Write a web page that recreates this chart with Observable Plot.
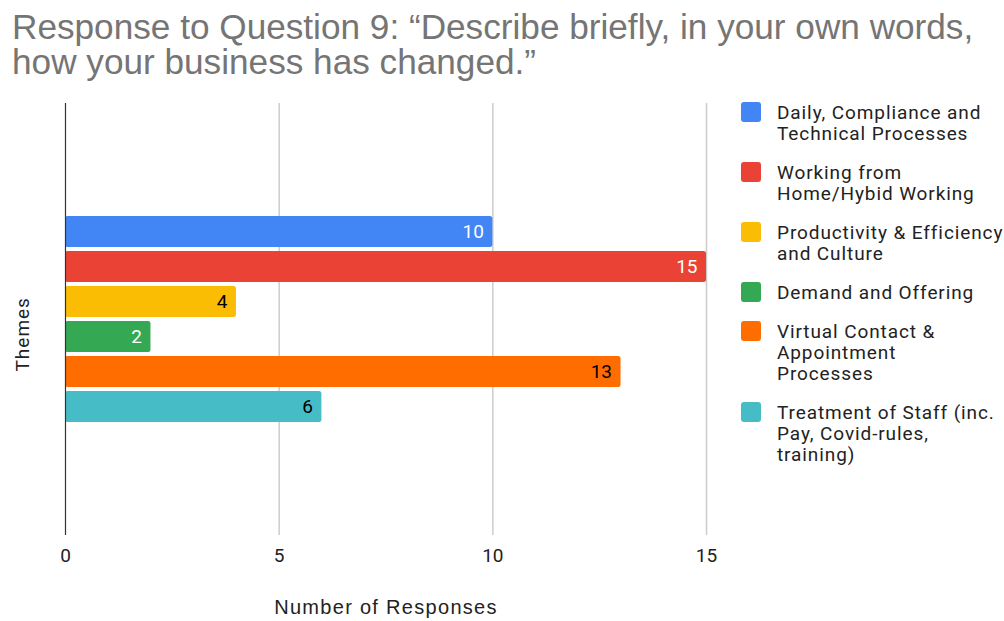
<!DOCTYPE html>
<html><head><meta charset="utf-8">
<script src="https://cdn.jsdelivr.net/npm/d3@7"></script>
<script src="https://cdn.jsdelivr.net/npm/@observablehq/plot@0.6"></script>
<style>
body{margin:0;background:#fff;font-family:Roboto,sans-serif}
#wrap{position:relative;width:1004px;height:621px;overflow:hidden;background:#fff}
#title{position:absolute;left:12px;top:9px;font-family:"Liberation Sans",Arial,sans-serif;font-size:35px;line-height:35px;color:#757575;white-space:nowrap;transform:scaleX(1.005);transform-origin:left top}
#chart{position:absolute;left:0;top:88px}
#legend{position:absolute;left:741px;top:101.5px;font-family:Roboto,sans-serif;font-size:19px;color:#222}
.item{display:flex;align-items:flex-start;margin-bottom:18px}
.sw{width:20px;height:20px;border-radius:3px;margin-right:16px;margin-top:0.5px;flex:none}
.lab{line-height:21px;letter-spacing:0.9px;white-space:nowrap}
.ylab{letter-spacing:1px}
.xlab{letter-spacing:1.3px;font-family:"Liberation Sans",Arial,sans-serif}
</style></head>
<body>
<div id="wrap">
  <div id="title"></div>
  <div id="chart"></div>
  <div id="legend"></div>
</div>
<script>
const titleLines = ["Response to Question 9: \u201cDescribe briefly, in your own words,", "how your business has changed.\u201d"];
const themes = [
  "Daily, Compliance and Technical Processes",
  "Working from Home/Hybid Working",
  "Productivity & Efficiency and Culture",
  "Demand and Offering",
  "Virtual Contact & Appointment Processes",
  "Treatment of Staff (inc. Pay, Covid-rules, training)"
];
const legendLines = [
  ["Daily, Compliance and", "Technical Processes"],
  ["Working from", "Home/Hybid Working"],
  ["Productivity & Efficiency", "and Culture"],
  ["Demand and Offering"],
  ["Virtual Contact &", "Appointment", "Processes"],
  ["Treatment of Staff (inc.", "Pay, Covid-rules,", "training)"]
];
const counts = [10, 15, 4, 2, 13, 6];
const colors = ["#4285F4", "#EA4335", "#FBBC04", "#34A853", "#FF6D01", "#46BDC6"];
const labelColors = ["#ffffff", "#ffffff", "#000000", "#ffffff", "#000000", "#000000"];
const xTicks = [0, 5, 10, 15];
const xLabel = "Number of Responses";
const yLabel = "Themes";

const data = themes.map((t, i) => ({theme: t, count: counts[i], labelColor: labelColors[i]}));

document.getElementById("title").innerHTML = titleLines.join("<br>");

const chart = Plot.plot({
  width: 1004,
  height: 533,
  marginTop: 15,
  marginBottom: 86,
  marginLeft: 65,
  marginRight: 298,
  style: {fontFamily: "Roboto, sans-serif", color: "#222", background: "transparent"},
  x: {domain: [0, 15], ticks: xTicks, label: null},
  y: {domain: themes, range: [125, 336], paddingInner: 0.12, paddingOuter: 0.06, axis: null},
  color: {domain: themes, range: colors},
  marks: [
    Plot.gridX(xTicks.filter(d => d > 0), {stroke: "#cccccc", strokeOpacity: 1, strokeWidth: 1.5}),
    Plot.barX(data, {x: "count", y: "theme", fill: "theme", rx: 2.5}),
    Plot.ruleX([0], {stroke: "#333", strokeWidth: 1.2}),
    Plot.text(data, {x: "count", y: "theme", text: d => String(d.count), textAnchor: "end", dx: -9, fill: "labelColor", fontSize: 19}),
    Plot.axisX(xTicks, {tickSize: 0, tickPadding: 13, fontSize: 19, label: null}),
    Plot.text([xLabel], {frameAnchor: "bottom", dy: 78, fontSize: 20}),
    Plot.text([yLabel], {frameAnchor: "left", dx: -43, dy: 52, rotate: -90, fontSize: 19})
  ]
});
d3.select(chart).selectAll("text").filter(function() { return this.textContent === yLabel; }).attr("class", "ylab");
d3.select(chart).selectAll("text").filter(function() { return this.textContent === xLabel; }).attr("class", "xlab");
document.getElementById("chart").appendChild(chart);

const legend = document.getElementById("legend");
legendLines.forEach((lines, i) => {
  const item = document.createElement("div");
  item.className = "item";
  const sw = document.createElement("div");
  sw.className = "sw";
  sw.style.background = colors[i];
  const lab = document.createElement("div");
  lab.className = "lab";
  lab.innerHTML = lines.map(s => s.replace(/&/g, "&amp;")).join("<br>");
  item.appendChild(sw);
  item.appendChild(lab);
  legend.appendChild(item);
});
</script>
</body></html>
